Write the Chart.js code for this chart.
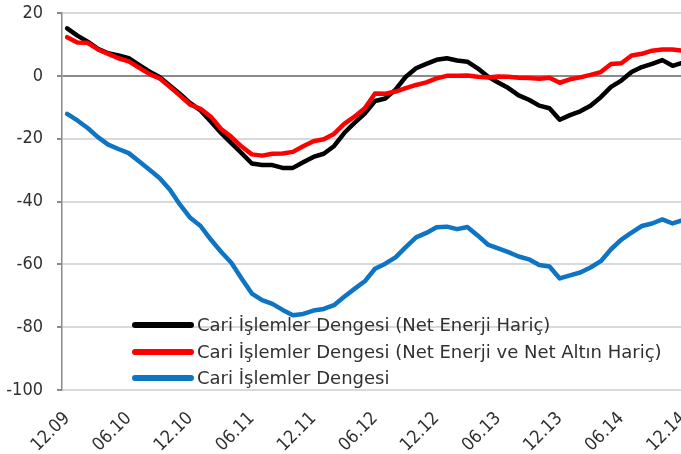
<!DOCTYPE html>
<html lang="tr">
<head>
  <meta charset="UTF-8">
  <title>Cari İşlemler Dengesi</title>
  <script src="https://cdn.jsdelivr.net/npm/chart.js"></script>
  <style>
    html, body {
      margin: 0;
      padding: 0;
      background: #ffffff;
      overflow: hidden;
    }
    #chart-container {
      position: relative;
      width: 692px;
      height: 454px;
    }
  </style>
</head>
<body>
  <div id="chart-container">
    <canvas id="myChart"></canvas>
  </div>

  <script>
    // Aylar (12.09 - 12.14)
    const months = [
      '12.09',
      '01.10', '02.10', '03.10', '04.10', '05.10', '06.10', '07.10', '08.10', '09.10', '10.10', '11.10', '12.10',
      '01.11', '02.11', '03.11', '04.11', '05.11', '06.11', '07.11', '08.11', '09.11', '10.11', '11.11', '12.11',
      '01.12', '02.12', '03.12', '04.12', '05.12', '06.12', '07.12', '08.12', '09.12', '10.12', '11.12', '12.12',
      '01.13', '02.13', '03.13', '04.13', '05.13', '06.13', '07.13', '08.13', '09.13', '10.13', '11.13', '12.13',
      '01.14', '02.14', '03.14', '04.14', '05.14', '06.14', '07.14', '08.14', '09.14', '10.14', '11.14', '12.14'
    ];

    const seriesNames = [
      'Cari İşlemler Dengesi (Net Enerji Hariç)',
      'Cari İşlemler Dengesi (Net Enerji ve Net Altın Hariç)',
      'Cari İşlemler Dengesi'
    ];

    // Net enerji hariç
    const exEnergy = [
      15.1, 12.8, 10.9, 8.6, 7.2, 6.5, 5.6, 3.5, 1.4, -0.4, -3.1, -5.8,
      -8.7, -11.0, -14.5, -18.2, -21.4, -24.6, -27.9, -28.4, -28.4, -29.3, -29.3, -27.5,
      -25.8, -24.8, -22.4, -18.2, -15.0, -12.0, -8.0, -7.2, -4.4, -0.3, 2.4, 3.8,
      5.1, 5.6, 4.9, 4.5, 2.4, -0.2, -2.1, -3.9, -6.2, -7.6, -9.5, -10.3,
      -14.0, -12.5, -11.3, -9.5, -6.8, -3.5, -1.5, 1.2, 2.8, 3.8, 5.0, 3.2,
      4.2
    ];

    // Net enerji ve net altın hariç
    const exEnergyGold = [
      12.3, 10.6, 10.5, 8.4, 7.0, 5.6, 4.6, 2.6, 0.6, -0.8, -3.5, -6.3,
      -9.2, -10.5, -13.0, -16.9, -19.4, -22.5, -25.0, -25.4, -24.8, -24.7, -24.2, -22.4,
      -20.8, -20.2, -18.5, -15.3, -13.0, -10.3, -5.6, -5.7, -5.0, -3.9, -2.9, -2.1,
      -0.8, 0.0, 0.0, 0.1, -0.3, -0.5, -0.2, -0.3, -0.6, -0.7, -0.9, -0.6,
      -2.2, -1.1, -0.5, 0.3, 1.2, 3.8, 4.0, 6.5, 7.0, 8.0, 8.4, 8.4,
      8.0
    ];

    // Cari işlemler dengesi
    const currentAccount = [
      -12.1, -14.2, -16.6, -19.5, -21.9, -23.3, -24.6, -27.2, -29.8, -32.5, -36.2, -41.0,
      -45.2, -47.8, -52.1, -56.0, -59.5, -64.5, -69.3, -71.4, -72.6, -74.5, -76.2, -75.8,
      -74.7, -74.2, -73.0, -70.3, -67.8, -65.4, -61.4, -59.8, -57.8, -54.5, -51.4, -50.0,
      -48.2, -48.0, -48.8, -48.1, -50.8, -53.7, -54.9, -56.1, -57.5, -58.4, -60.2, -60.7,
      -64.5, -63.5, -62.6, -61.0, -59.0, -55.2, -52.1, -49.9, -47.8, -47.0, -45.7, -47.0,
      -45.9
    ];

    const AXIS_FONT = '"DejaVu Sans Condensed", "DejaVu Sans"';
    const LEGEND_FONT = '"DejaVu Sans"';
    const TEXT_COLOR = '#303030';

    // Legend drawn inside the plot area
    const innerLegend = {
      id: 'innerLegend',
      afterDraw(chart) {
        const { ctx, chartArea } = chart;
        const x0 = chartArea.left + 73;
        const rows = [chartArea.bottom - 65, chartArea.bottom - 38, chartArea.bottom - 12];
        ctx.save();
        ctx.font = '18px ' + LEGEND_FONT;
        ctx.textBaseline = 'middle';
        ctx.textAlign = 'left';
        chart.data.datasets.forEach((ds, i) => {
          const y = rows[i];
          ctx.strokeStyle = ds.borderColor;
          ctx.lineWidth = 6;
          ctx.lineCap = 'round';
          ctx.beginPath();
          ctx.moveTo(x0, y);
          ctx.lineTo(x0 + 56, y);
          ctx.stroke();
          ctx.fillStyle = TEXT_COLOR;
          ctx.fillText(ds.label, x0 + 62, y + 1);
        });
        ctx.restore();
      }
    };

    const ctx = document.getElementById('myChart').getContext('2d');
    new Chart(ctx, {
      type: 'line',
      data: {
        labels: months,
        datasets: [
          { label: seriesNames[0], data: exEnergy, borderColor: '#000000', order: 2 },
          { label: seriesNames[1], data: exEnergyGold, borderColor: '#ff0000', order: 1 },
          { label: seriesNames[2], data: currentAccount, borderColor: '#0e74c4', order: 3 }
        ]
      },
      options: {
        responsive: true,
        maintainAspectRatio: false,
        animation: false,
        layout: { padding: { left: 7, top: 13, right: 4, bottom: 0 } },
        elements: {
          line: { borderWidth: 4.5, tension: 0, borderJoinStyle: 'round', borderCapStyle: 'round', fill: false },
          point: { radius: 0 }
        },
        plugins: {
          legend: { display: false },
          tooltip: { enabled: false }
        },
        scales: {
          x: {
            offset: true,
            grid: { display: false, drawTicks: false },
            border: { display: false },
            ticks: {
              autoSkip: false,
              maxRotation: 45,
              minRotation: 45,
              padding: 18,
              color: TEXT_COLOR,
              font: { family: AXIS_FONT, size: 18 },
              callback: (v, i) => (i % 6 === 0 ? months[i] : '')
            },
            afterFit: (scale) => {
              scale.height = 64;
              scale.paddingLeft = 0;
              scale.paddingRight = 0;
            }
          },
          y: {
            min: -100,
            max: 20,
            ticks: {
              stepSize: 20,
              padding: 14,
              color: TEXT_COLOR,
              font: { family: AXIS_FONT, size: 18 }
            },
            grid: {
              color: (c) => (c.tick && c.tick.value === 0 ? '#8a8a8a' : '#d9d9d9'),
              lineWidth: 2,
              tickLength: 5,
              tickColor: '#8a8a8a'
            },
            border: { color: '#8a8a8a', width: 1.5 },
            afterFit: (scale) => {
              scale.width = 55;
              scale.paddingTop = 0;
              scale.paddingBottom = 0;
            }
          }
        }
      },
      plugins: [innerLegend]
    });
  </script>
</body>
</html>
